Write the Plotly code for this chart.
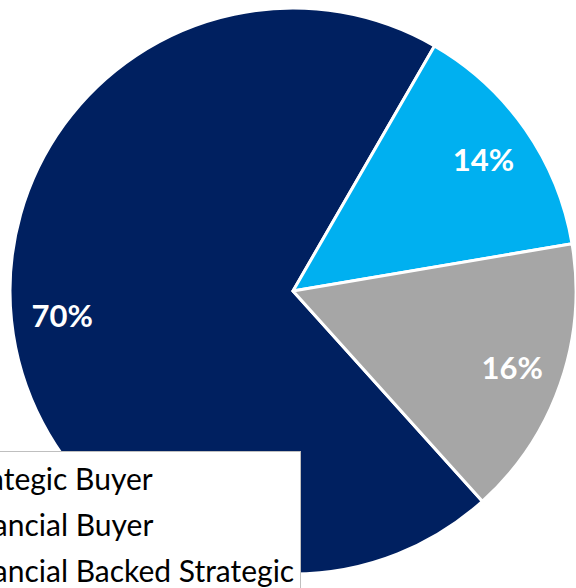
import plotly.graph_objects as go

# data
buyer_types = ["Strategic Buyer", "Financial Buyer", "Financial Backed Strategic"]
shares = [70, 14, 16]
slice_colors = ["#002060", "#00B0F0", "#A6A6A6"]

pie_domain = dict(x=[10 / 576, 1.0], y=[14 / 588, 580 / 588])

fig = go.Figure()

# solid pie, no text
fig.add_trace(go.Pie(
    labels=buyer_types,
    values=shares,
    sort=False,
    direction="clockwise",
    rotation=138,
    marker=dict(colors=slice_colors, line=dict(color="white", width=3)),
    textinfo="none",
    domain=pie_domain,
    showlegend=False,
    hoverinfo="label+percent",
))

# transparent ring on top, only used to push the % labels out toward the rim
fig.add_trace(go.Pie(
    labels=buyer_types,
    values=shares,
    sort=False,
    direction="clockwise",
    rotation=138,
    hole=0.64,
    marker=dict(colors=["rgba(0,0,0,0)"] * 3, line=dict(width=0)),
    textinfo="percent",
    textposition="inside",
    insidetextorientation="horizontal",
    textfont=dict(family="Lato", size=31, color="white", weight="bold"),
    domain=pie_domain,
    showlegend=False,
    hoverinfo="skip",
))

# legend entries, one group each so the gap between rows can be set
for name, col in zip(buyer_types, slice_colors):
    fig.add_trace(go.Scatter(
        x=[None], y=[None], mode="markers", name=name,
        marker=dict(symbol="square", size=14, color=col),
        legendgroup=name, showlegend=True,
    ))

fig.update_layout(
    width=576,
    height=588,
    margin=dict(l=0, r=0, t=0, b=0, autoexpand=False),
    paper_bgcolor="white",
    plot_bgcolor="white",
    xaxis=dict(visible=False),
    yaxis=dict(visible=False),
    legend=dict(
        x=301 / 576, xanchor="right",
        y=1 - 451 / 588, yanchor="top",
        bgcolor="white",
        bordercolor="#BFBFBF",
        borderwidth=1,
        font=dict(family="Lato", size=30, color="black"),
        traceorder="grouped",
        tracegroupgap=4,
    ),
)

fig.write_html("out.html", config={"displayModeBar": False},
               post_script="document.body.style.margin='0';")
